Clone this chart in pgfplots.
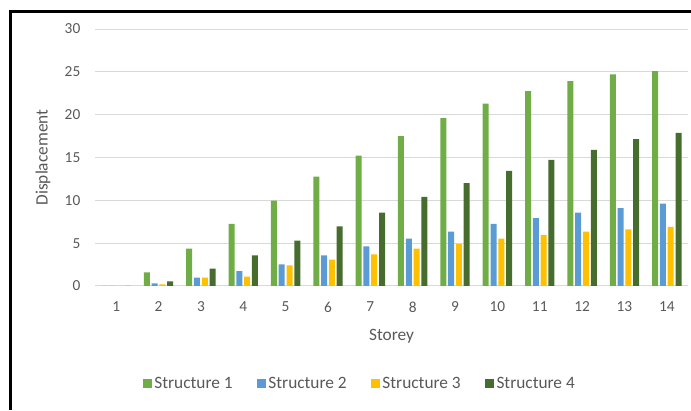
\documentclass[border=0pt]{standalone}
\usepackage{pgfplots}
\pgfplotsset{compat=1.18}
\usepackage{fontspec}
\setmainfont{Carlito}
\definecolor{sA}{HTML}{70AD47}
\definecolor{sB}{HTML}{5B9BD5}
\definecolor{sC}{HTML}{FFC000}
\definecolor{sD}{HTML}{466C2E}
\definecolor{txt}{HTML}{595959}
\definecolor{grd}{HTML}{D9D9D9}
\begin{document}
\begin{tikzpicture}
\path[use as bounding box] (0,0) rectangle (518.25pt,307.5pt);
\draw[black,line width=2.25pt] (7.875pt,0) -- (7.875pt,298.5pt) -- (518.25pt,298.5pt);
\begin{axis}[
  at={(71.25pt,93pt)}, anchor=south west,
  scale only axis, width=444.75pt, height=192.75pt,
  ybar=1.35pt, bar width=4.5pt,
  xmin=0.5, xmax=14.5, ymin=0, ymax=30,
  xtick={1,...,14}, ytick={0,5,...,30},
  axis line style={draw=none},
  tick style={draw=none},
  ymajorgrids, grid style={grd, line width=0.75pt},
  font=\fontsize{11.5}{13}\selectfont,
  ticklabel style={txt},
  /pgf/number format/assume math mode=true,
  yticklabel style={xshift=-7.5pt},
  xticklabel style={yshift=-4pt},
  xlabel={Storey}, ylabel={Displacement},
  label style={txt, font=\fontsize{13}{15}\selectfont},
  xlabel style={at={(axis description cs:0.5,-0.195)}, anchor=center},
  ylabel style={at={(axis description cs:-0.0877,0.5)}, anchor=center},
  legend columns=4,
  legend style={draw=none, at={(0.447,-0.381)}, anchor=center, font=\fontsize{13}{15}\selectfont, text=txt,
    /tikz/every even column/.append style={column sep=16pt}},
  legend image code/.code={\fill[#1] (0pt,-3.4pt) rectangle (6.8pt,3.4pt);},
  every axis plot/.append style={draw=none},
]
\addplot[fill=sA] coordinates {(1,0) (2,1.6) (3,4.36) (4,7.25) (5,9.97) (6,12.78) (7,15.23) (8,17.49) (9,19.6) (10,21.3) (11,22.75) (12,23.92) (13,24.7) (14,25.09)};
\addplot[fill=sB] coordinates {(1,0) (2,0.31) (3,0.97) (4,1.75) (5,2.53) (6,3.58) (7,4.64) (8,5.53) (9,6.35) (10,7.25) (11,7.91) (12,8.57) (13,9.08) (14,9.62)};
\addplot[fill=sC] coordinates {(1,0) (2,0.2) (3,0.97) (4,1.09) (5,2.42) (6,3.08) (7,3.7) (8,4.36) (9,4.91) (10,5.53) (11,5.96) (12,6.35) (13,6.62) (14,6.9)};
\addplot[fill=sD] coordinates {(1,0) (2,0.55) (3,2.03) (4,3.58) (5,5.3) (6,6.97) (7,8.57) (8,10.4) (9,12.0) (10,13.44) (11,14.73) (12,15.9) (13,17.14) (14,17.88)};
\legend{Structure 1, Structure 2, Structure 3, Structure 4}
\end{axis}
\end{tikzpicture}
\end{document}
